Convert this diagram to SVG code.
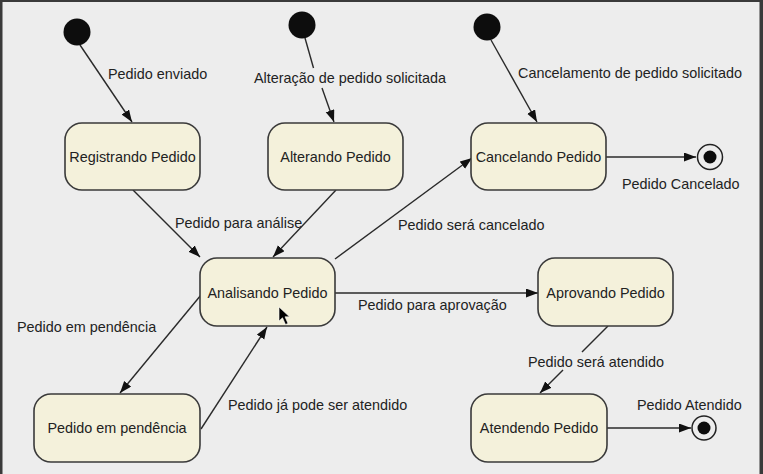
<svg xmlns="http://www.w3.org/2000/svg" width="763" height="474" viewBox="0 0 763 474">
<defs>
<marker id="arr" markerUnits="userSpaceOnUse" markerWidth="13" markerHeight="10" refX="12" refY="4.5" orient="auto">
<path d="M0,0 L12,4.5 L0,9 z" fill="#111"/>
</marker>
<style>
.bg{fill:#ededed}
.st{fill:#f4f1db;stroke:#3a3a3a;stroke-width:1.6}
.init{fill:#0d0d0d}
.fin-o{fill:none;stroke:#222;stroke-width:1.5}
.fin-i{fill:#0d0d0d}
.e{stroke:#2a2a2a;stroke-width:1.4;fill:none}
.ea{stroke:#2a2a2a;stroke-width:1.4;fill:none;marker-end:url(#arr)}
text{font-family:"Liberation Sans",Arial,sans-serif;font-size:14.4px;fill:#222}
.c{text-anchor:middle}
</style>
</defs>
<rect class="bg" x="0" y="0" width="763" height="474"/>
<rect x="0" y="0" width="763" height="2" fill="#3a3a3a"/>
<rect x="0" y="0" width="2.5" height="474" fill="#3a3a3a"/>
<rect x="759.5" y="0" width="3.5" height="474" fill="#3a3a3a"/>

<g id="connectors">
<line class="ea" x1="80" y1="45" x2="132" y2="122"/>
<line class="e" x1="305" y1="38" x2="313.5" y2="68"/>
<line class="ea" x1="322" y1="88" x2="334" y2="122"/>
<line class="ea" x1="491" y1="40" x2="537" y2="122"/>
<line class="ea" x1="606" y1="157" x2="696" y2="157"/>
<line class="ea" x1="133" y1="190" x2="200" y2="257"/>
<line class="ea" x1="336" y1="190" x2="273" y2="257"/>
<line class="ea" x1="335" y1="259" x2="472" y2="158"/>
<line class="ea" x1="335" y1="293" x2="538" y2="293"/>
<line class="ea" x1="201" y1="295" x2="120" y2="393"/>
<line class="ea" x1="201" y1="429" x2="267" y2="327"/>
<line class="e" x1="608" y1="326" x2="582" y2="352"/>
<line class="ea" x1="563" y1="370" x2="540" y2="393"/>
<line class="ea" x1="607" y1="428" x2="691" y2="428"/>
</g>

<g id="init1"><circle class="init" cx="77" cy="32" r="13.5"/></g>
<g id="init2"><circle class="init" cx="302" cy="25" r="13.5"/></g>
<g id="init3"><circle class="init" cx="487" cy="27" r="13.5"/></g>

<g id="final1"><circle class="fin-o" cx="710" cy="157" r="12.5"/><circle class="fin-i" cx="710" cy="157" r="6.5"/></g>
<g id="final2"><circle class="fin-o" cx="704" cy="428" r="12"/><circle class="fin-i" cx="704" cy="428" r="6.5"/></g>

<g id="registrando"><rect class="st" x="65" y="123" width="135" height="67" rx="17"/><text class="c" x="132.5" y="162">Registrando Pedido</text></g>
<g id="alterando"><rect class="st" x="268" y="123" width="135" height="67" rx="17"/><text class="c" x="335.5" y="162">Alterando Pedido</text></g>
<g id="cancelando"><rect class="st" x="471" y="123" width="135" height="67" rx="17"/><text class="c" x="538.5" y="162">Cancelando Pedido</text></g>
<g id="analisando"><rect class="st" x="200" y="258" width="135" height="68" rx="17"/><text class="c" x="267.5" y="298">Analisando Pedido</text></g>
<g id="pendencia"><rect class="st" x="34" y="394" width="166" height="68" rx="17"/><text class="c" x="117" y="433">Pedido em pendência</text></g>
<g id="aprovando"><rect class="st" x="538" y="258" width="135" height="68" rx="17"/><text class="c" x="605.5" y="298">Aprovando Pedido</text></g>
<g id="atendendo"><rect class="st" x="471" y="394" width="136" height="68" rx="17"/><text class="c" x="539" y="433">Atendendo Pedido</text></g>

<g id="labels">
<text x="108" y="79">Pedido enviado</text>
<text x="254" y="83">Alteração de pedido solicitada</text>
<text x="518" y="78">Cancelamento de pedido solicitado</text>
<text x="622" y="189">Pedido Cancelado</text>
<text x="175" y="228">Pedido para análise</text>
<text x="398" y="230">Pedido será cancelado</text>
<text x="17" y="332">Pedido em pendência</text>
<text x="358" y="310">Pedido para aprovação</text>
<text x="228" y="410">Pedido já pode ser atendido</text>
<text x="528" y="367">Pedido será atendido</text>
<text x="637" y="410">Pedido Atendido</text>
</g>

<path d="M279,307 L279,321 L282.5,317.8 L285.5,324.5 L288,323.4 L285,316.8 L289.5,316.8 Z" fill="#000" stroke="#fff" stroke-width="0.6"/>
</svg>
